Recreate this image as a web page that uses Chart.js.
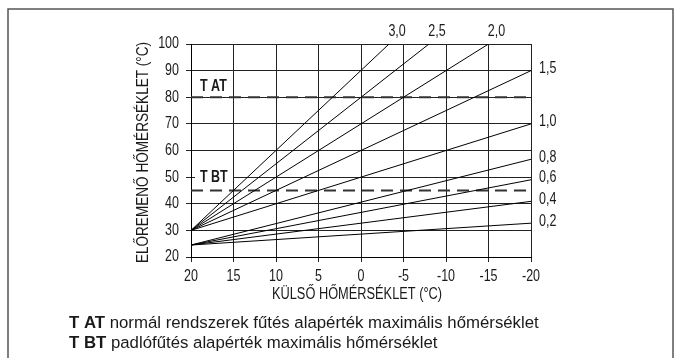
<!DOCTYPE html>
<html>
<head>
<meta charset="utf-8">
<script src="https://cdn.jsdelivr.net/npm/chart.js@4"></script>
<style>
  html, body { margin: 0; padding: 0; background: #fff; }
  #wrap { position: relative; width: 682px; height: 358px; }
</style>
</head>
<body>
<div id="wrap"><canvas id="chart" width="682" height="358"></canvas></div>
<script>
// Courbes de chauffe : nom, point de départ et point d'arrivée
const curveNames  = ['3,0', '2,5', '2,0', '1,5', '1,0', '0,8', '0,6', '0,4', '0,2'];
const curveStartX = [20, 20, 20, 20, 20, 20, 20, 20, 20];
const curveStartY = [30, 30, 30, 30, 30, 24.5, 24.5, 24.5, 24.5];
const curveEndX   = [-3.3, -8, -15, -20, -20, -20, -20, -20, -20];
const curveEndY   = [100, 100, 100, 90, 70, 56.7, 49, 40.9, 32.7];

// Consignes maximales (lignes pointillées)
const limitNames  = ['T AT', 'T BT'];
const limitValues = [80, 45];

// Axes
const xTicks = [20, 15, 10, 5, 0, -5, -10, -15, -20];
const yTicks = [20, 30, 40, 50, 60, 70, 80, 90, 100];
const xTitle = 'KÜLSŐ HŐMÉRSÉKLET (°C)';
const yTitle = 'ELŐREMENŐ HŐMÉRSÉKLET (°C)';

// Légende sous le graphique
const noteKeys  = ['T AT', 'T BT'];
const noteTexts = [' normál rendszerek fűtés alapérték maximális hőmérséklet',
                   ' padlófűtés alapérték maximális hőmérséklet'];

const FONT = '"Liberation Sans", Arial, sans-serif';
const INK = '#1a1a1a';
const NARROW = 0.78; // écrasement horizontal du texte du graphique

const datasets = [];
curveNames.forEach((name, i) => {
  datasets.push({
    label: name,
    data: [{ x: curveStartX[i], y: curveStartY[i] }, { x: curveEndX[i], y: curveEndY[i] }],
    borderColor: '#000',
    borderWidth: 1,
    pointRadius: 0,
    showLine: true,
    fill: false
  });
});
limitNames.forEach((name, i) => {
  datasets.push({
    label: name,
    data: [{ x: 20, y: limitValues[i] }, { x: -20, y: limitValues[i] }],
    borderColor: '#333',
    borderWidth: 2,
    borderDash: [12, 7],
    pointRadius: 0,
    showLine: true,
    fill: false
  });
});

// Écrit un texte avec un facteur d'échelle horizontal
function drawText(ctx, text, x, y, size, sx, align, bold) {
  ctx.save();
  ctx.translate(x, y);
  ctx.scale(sx, 1);
  ctx.font = (bold ? 'bold ' : '') + size + 'px ' + FONT;
  ctx.textAlign = align;
  ctx.textBaseline = 'middle';
  ctx.fillText(text, 0, 0);
  ctx.restore();
}

// Plugin : cadre, titres d'axes, graduations, étiquettes des courbes et notes
const decorations = {
  id: 'decorations',
  beforeDraw(chart) {
    const ctx = chart.ctx;
    ctx.save();
    ctx.fillStyle = '#fff';
    ctx.fillRect(0, 0, chart.width, chart.height);
    ctx.strokeStyle = '#555';
    ctx.lineWidth = 1.5;
    ctx.strokeRect(8, 9, 665, 400);
    ctx.restore();
  },
  afterDraw(chart) {
    const ctx = chart.ctx;
    const xs = chart.scales.x, ys = chart.scales.y;
    const area = chart.chartArea;
    ctx.save();
    ctx.fillStyle = INK;

    // graduations
    yTicks.forEach(v => drawText(ctx, String(v), 179, ys.getPixelForValue(v), 16, NARROW, 'right'));
    xTicks.forEach(v => drawText(ctx, String(v), xs.getPixelForValue(v), 277, 16, NARROW, 'center'));

    // titre axe Y
    ctx.save();
    ctx.translate(144, (area.top + area.bottom) / 2 + 2);
    ctx.rotate(-Math.PI / 2);
    ctx.scale(0.97, 1.15);
    ctx.font = '14px ' + FONT;
    ctx.textAlign = 'center';
    ctx.textBaseline = 'middle';
    ctx.fillText(yTitle, 0, 0);
    ctx.restore();

    // titre axe X
    drawText(ctx, xTitle, 357, 295, 16, 0.8, 'center');

    // étiquettes des courbes
    curveNames.forEach((name, i) => {
      const px = xs.getPixelForValue(curveEndX[i]);
      const py = ys.getPixelForValue(curveEndY[i]);
      if (curveEndY[i] >= 100) {
        drawText(ctx, name, px + 8, 32, 16, NARROW, 'center');
      } else {
        drawText(ctx, name, px + 8, py - 2, 16, NARROW, 'left');
      }
    });

    // étiquettes T AT / T BT
    const atY = ys.getPixelForValue(limitValues[0]);
    drawText(ctx, limitNames[0], area.left + 9, atY - 11, 16, NARROW, 'left', true);
    const btY = ys.getPixelForValue(50);
    ctx.fillStyle = '#fff';
    ctx.fillRect(area.left + 4, btY - 7, 38, 14);
    ctx.fillStyle = INK;
    drawText(ctx, limitNames[1], area.left + 9, btY + 0.5, 16, NARROW, 'left', true);

    // notes
    [323, 343].forEach((y, i) => {
      ctx.textAlign = 'left';
      ctx.textBaseline = 'middle';
      ctx.font = 'bold 16.8px ' + FONT;
      ctx.fillText(noteKeys[i], 69, y);
      const kw = ctx.measureText(noteKeys[i]).width;
      ctx.font = '16.8px ' + FONT;
      ctx.fillText(noteTexts[i], 69 + kw, y);
    });
    ctx.restore();
  }
};

const chart = new Chart(document.getElementById('chart'), {
  type: 'scatter',
  data: { datasets },
  options: {
    responsive: false,
    animation: false,
    events: [],
    layout: { padding: { left: 0, top: 44, right: 151, bottom: 0 } },
    plugins: { legend: { display: false }, tooltip: { enabled: false } },
    scales: {
      x: {
        type: 'linear',
        reverse: true,
        min: -20,
        max: 20,
        afterBuildTicks: s => { s.ticks = xTicks.map(v => ({ value: v })); },
        afterFit: s => { s.height = 101; },
        grid: { color: '#222', lineWidth: 1, tickLength: 5, drawTicks: true },
        border: { color: '#000', width: 1 },
        ticks: { display: false }
      },
      y: {
        type: 'linear',
        min: 20,
        max: 100,
        afterBuildTicks: s => { s.ticks = yTicks.map(v => ({ value: v })); },
        afterFit: s => { s.width = 191; },
        grid: { color: '#222', lineWidth: 1, tickLength: 5, drawTicks: true },
        border: { color: '#000', width: 1 },
        ticks: { display: false }
      }
    }
  },
  plugins: [decorations]
});
</script>
</body>
</html>
